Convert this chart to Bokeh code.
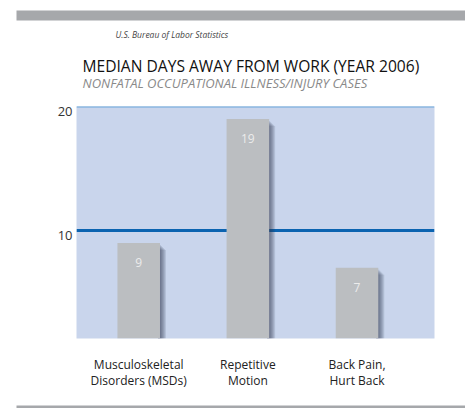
from bokeh.plotting import figure
from bokeh.layouts import column
from bokeh.models import Span, FixedTicker, ColumnDataSource, Range1d
from bokeh.core.properties import value
from bokeh.embed import file_html
from bokeh.resources import INLINE

categories = ["Musculoskeletal\nDisorders (MSDs)", "Repetitive\nMotion", "Back Pain,\nHurt Back"]
days = [9, 19, 7]
yticks = [10, 20]
source_text = "U.S. Bureau of Labor Statistics"
title_text = "MEDIAN DAYS AWAY FROM WORK (YEAR 2006)"
subtitle_text = "NONFATAL OCCUPATIONAL ILLNESS/INJURY CASES"

W = 465
HEAD_H, MAIN_H, FOOT_H = 100, 298, 10
FL, FR, FT, FB = 76, 434, 6, 238   # frame edges inside main figure
XR = (-0.07, 3.21)
YR = (1.3, 20)
FONT = "Open Sans"
BAND = "#a6a8ab"


def blank(h):
    f = figure(width=W, height=h, output_backend="svg", toolbar_location=None,
               x_range=Range1d(0, W), y_range=Range1d(h, 0),
               x_axis_type=None, y_axis_type=None,
               min_border=0, min_border_left=0, min_border_right=0,
               min_border_top=0, min_border_bottom=0)
    f.outline_line_color = None
    f.grid.visible = False
    f.background_fill_color = "white"
    f.border_fill_color = "white"
    f.frame_align = False
    return f


# ---- header
head = blank(HEAD_H)
head.quad(left=16, right=W, top=10, bottom=20, fill_color=BAND, line_color=None)
head.text(x=[115], y=[34], text=[source_text], text_font=value(FONT), text_font_size="8.5px",
          text_font_style="italic", text_color="#444444", text_baseline="alphabetic")
head.text(x=[82], y=[65], text=[title_text], text_font=value(FONT), text_font_size="15.6px",
          text_color="#111111", text_baseline="alphabetic")
head.text(x=[82], y=[82.5], text=[subtitle_text], text_font=value(FONT), text_font_size="13px",
          text_font_style="italic", text_color="#8a8a8a", text_baseline="alphabetic")

# ---- main chart
p = figure(width=W, height=MAIN_H, output_backend="svg", toolbar_location=None,
           x_range=XR, y_range=YR,
           min_border_left=FL, min_border_right=W - FR,
           min_border_top=FT, min_border_bottom=MAIN_H - FB)
p.frame_align = False
p.background_fill_color = "#c9d5ec"
p.border_fill_color = "white"
p.outline_line_color = None
p.xgrid.grid_line_color = None
p.ygrid.grid_line_color = None

pxx = (XR[1] - XR[0]) / (FR - FL)
pxy = (YR[1] - YR[0]) / (FB - FT)

xs = [i + 0.5 for i in range(len(days))]
bw = 0.39
src = ColumnDataSource(dict(x=xs, top=days, label=[str(d) for d in days]))

p.add_layout(Span(location=10, dimension="width", line_color="#0b63b0", line_width=3, level="underlay"))
p.add_layout(Span(location=20, dimension="width", line_color="#6aa6da", line_width=2, level="underlay"))

for k in range(1, 7):
    p.quad(left=[x + bw / 2 - 2 * pxx for x in xs], right=[x + bw / 2 + k * pxx for x in xs],
           top=[d - (k + 1) * pxy for d in days], bottom=YR[0],
           fill_color="#2c3550", fill_alpha=0.13, line_color=None)

p.vbar(x="x", top="top", bottom=YR[0], width=bw, source=src, fill_color="#bbbec1", line_color=None)
p.text(x="x", y="top", text="label", source=src, text_align="center", text_baseline="middle",
       y_offset=20, text_font=value(FONT), text_font_size="12px", text_color="#ececec")

# y axis: labels sit just below their gridlines, as in the original
lab_shift = 0.4
p.yaxis.ticker = FixedTicker(ticks=[t - lab_shift for t in yticks])
p.yaxis.major_label_overrides = {t - lab_shift: str(t) for t in yticks}
p.yaxis.axis_line_color = None
p.yaxis.major_tick_line_color = None
p.yaxis.minor_tick_line_color = None
p.yaxis.major_tick_out = 0
p.yaxis.major_tick_in = 0
p.yaxis.major_label_standoff = 4
p.yaxis.major_label_text_font = FONT
p.yaxis.major_label_text_font_size = "13px"
p.yaxis.major_label_text_color = "#333333"

p.xaxis.ticker = FixedTicker(ticks=xs)
p.xaxis.major_label_overrides = {x: c for x, c in zip(xs, categories)}
p.xaxis.axis_line_color = None
p.xaxis.major_tick_line_color = None
p.xaxis.minor_tick_line_color = None
p.xaxis.major_tick_out = 0
p.xaxis.major_tick_in = 0
p.xaxis.major_label_standoff = 17
p.xaxis.major_label_text_font = FONT
p.xaxis.major_label_text_font_size = "12px"
p.xaxis.major_label_text_line_height = 0.98
p.xaxis.major_label_text_color = "#222222"

# ---- footer band
foot = blank(FOOT_H)
foot.quad(left=16, right=W, top=5, bottom=FOOT_H, fill_color=BAND, line_color=None)

layout = column(head, p, foot, spacing=0)
open("out.html", "w").write(file_html(layout, INLINE))
